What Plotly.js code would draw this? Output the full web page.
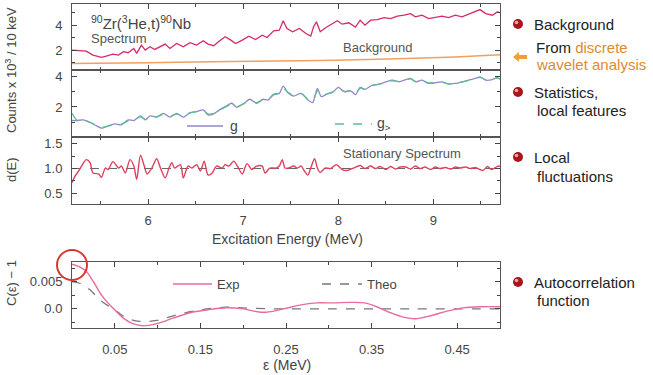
<!DOCTYPE html>
<html>
<head>
<meta charset="utf-8">
<script src="https://cdn.plot.ly/plotly-3.0.1.min.js"></script>
<style>
  html, body { margin: 0; padding: 0; background: #fff; }
  #plot { width: 653px; height: 375px; }
</style>
</head>
<body>
<div id="plot"></div>
<script>
// raw spectrum (counts x 10^3 / 10 keV)
const specE = [5.20, 5.28, 5.35, 5.42, 5.51, 5.56, 5.63, 5.69, 5.74, 5.79, 5.85, 5.88, 5.93, 5.97,
  6.02, 6.07, 6.13, 6.18, 6.23, 6.30, 6.37, 6.44, 6.51, 6.58, 6.63, 6.69, 6.74, 6.81, 6.87, 6.92,
  6.99, 7.06, 7.13, 7.20, 7.25, 7.32, 7.38, 7.42, 7.46, 7.52, 7.59, 7.66, 7.71, 7.74, 7.77, 7.81,
  7.87, 7.94, 7.99, 8.04, 8.11, 8.18, 8.23, 8.28, 8.34, 8.41, 8.48, 8.55, 8.62, 8.69, 8.76, 8.81,
  8.88, 8.95, 9.02, 9.09, 9.16, 9.23, 9.30, 9.37, 9.44, 9.49, 9.55, 9.62, 9.67, 9.70];
const specV = [2.00, 1.95, 1.92, 1.60, 1.41, 1.52, 1.68, 1.60, 1.87, 1.79, 2.13, 1.73, 2.40, 2.00,
  2.27, 2.05, 2.27, 2.48, 2.13, 2.53, 2.27, 2.59, 2.40, 2.75, 2.48, 2.35, 2.67, 3.07, 2.80, 2.53,
  2.80, 3.12, 2.85, 3.20, 3.01, 3.55, 3.60, 4.35, 3.73, 3.47, 3.73, 3.33, 3.12, 3.87, 4.27, 3.47,
  3.81, 4.13, 4.35, 4.08, 4.19, 3.84, 4.40, 4.00, 4.40, 4.45, 4.61, 4.53, 4.72, 4.80, 4.93, 4.67,
  4.80, 4.53, 4.61, 4.72, 4.61, 4.80, 4.67, 4.88, 5.07, 5.25, 4.93, 4.80, 5.07, 5.00];

// background from discrete wavelet analysis
const bgE = [5.2, 6.0, 6.67, 7.6, 8.18, 8.8, 9.23, 9.7];
const bgV = [0.93, 0.99, 1.06, 1.15, 1.22, 1.34, 1.45, 1.62];

// g and g> (statistics, local features)
const gE = [5.20, 5.25, 5.32, 5.39, 5.46, 5.51, 5.58, 5.65, 5.72, 5.79, 5.85, 5.92, 5.97, 6.02,
  6.09, 6.16, 6.23, 6.30, 6.37, 6.44, 6.51, 6.58, 6.63, 6.69, 6.74, 6.81, 6.88, 6.93, 7.00, 7.07,
  7.14, 7.21, 7.26, 7.32, 7.38, 7.42, 7.47, 7.53, 7.61, 7.68, 7.73, 7.78, 7.82, 7.88, 7.94, 8.00,
  8.06, 8.13, 8.18, 8.23, 8.28, 8.36, 8.43, 8.50, 8.57, 8.64, 8.71, 8.76, 8.81, 8.88, 8.95, 9.02,
  9.09, 9.16, 9.23, 9.30, 9.37, 9.44, 9.49, 9.55, 9.62, 9.67, 9.70];
const gV = [1.12, 1.12, 1.16, 0.99, 0.77, 0.62, 0.77, 0.90, 0.84, 1.16, 1.12, 1.42, 1.16, 1.42,
  1.34, 1.59, 1.34, 1.59, 1.34, 1.63, 1.70, 1.81, 1.48, 1.55, 1.76, 2.02, 2.24, 1.98, 2.19, 2.50,
  2.24, 2.50, 2.45, 2.84, 2.88, 3.35, 2.92, 2.71, 2.88, 2.45, 2.28, 3.20, 2.67, 2.84, 2.95, 3.27,
  2.99, 3.05, 2.80, 3.27, 3.14, 3.42, 3.48, 3.63, 3.74, 3.63, 3.78, 3.85, 3.63, 3.74, 3.53, 3.57,
  3.63, 3.48, 3.53, 3.63, 3.74, 3.85, 3.96, 3.74, 3.78, 3.90, 3.80];
const gGtV = [1.60, 1.15, 1.14, 1.00, 0.80, 0.68, 0.76, 0.88, 0.88, 1.10, 1.14, 1.36, 1.22, 1.38,
  1.36, 1.52, 1.40, 1.54, 1.40, 1.60, 1.70, 1.76, 1.55, 1.58, 1.76, 1.98, 2.18, 2.02, 2.20, 2.44,
  2.28, 2.48, 2.50, 2.78, 2.90, 3.22, 2.96, 2.76, 2.86, 2.52, 2.40, 3.05, 2.74, 2.84, 2.98, 3.20,
  3.02, 3.04, 2.86, 3.22, 3.16, 3.40, 3.48, 3.60, 3.70, 3.66, 3.76, 3.82, 3.66, 3.72, 3.56, 3.58,
  3.60, 3.50, 3.55, 3.62, 3.72, 3.84, 3.92, 3.78, 3.80, 3.88, 3.82];

// stationary spectrum d(E)
const dE = [5.20, 5.23, 5.27, 5.30, 5.35, 5.39, 5.42, 5.48, 5.51, 5.55, 5.58, 5.63, 5.69, 5.72,
  5.76, 5.81, 5.85, 5.88, 5.92, 5.96, 5.99, 6.04, 6.09, 6.13, 6.18, 6.22, 6.25, 6.28, 6.34, 6.37,
  6.42, 6.46, 6.51, 6.55, 6.59, 6.63, 6.67, 6.72, 6.78, 6.81, 6.85, 6.90, 6.95, 6.99, 7.04, 7.09,
  7.14, 7.20, 7.23, 7.28, 7.35, 7.38, 7.41, 7.44, 7.48, 7.53, 7.57, 7.61, 7.64, 7.68, 7.71, 7.75,
  7.78, 7.81, 7.86, 7.92, 7.98, 8.04, 8.09, 8.16, 8.23, 8.28, 8.34, 8.39, 8.44, 8.50, 8.55, 8.60,
  8.65, 8.71, 8.76, 8.81, 8.86, 8.91, 8.97, 9.02, 9.07, 9.13, 9.18, 9.23, 9.28, 9.34, 9.39, 9.44,
  9.49, 9.52, 9.57, 9.61, 9.67, 9.70];
const dV = [0.71, 0.84, 0.95, 1.05, 1.18, 1.12, 0.91, 0.89, 0.82, 1.01, 0.98, 1.14, 1.01, 1.05,
  0.91, 1.18, 1.05, 0.78, 1.27, 1.05, 0.89, 1.01, 1.20, 1.01, 0.81, 1.01, 1.12, 1.01, 1.08, 0.81,
  1.05, 1.01, 1.08, 0.95, 1.15, 0.87, 0.90, 1.05, 1.01, 1.08, 1.05, 1.15, 1.01, 0.89, 1.10, 0.98,
  1.05, 1.05, 0.91, 1.01, 1.01, 1.05, 1.18, 1.01, 1.01, 1.05, 1.01, 1.05, 0.96, 0.87, 1.01, 1.20,
  1.01, 0.92, 1.01, 1.00, 1.08, 0.98, 0.96, 1.01, 1.06, 1.00, 1.05, 1.00, 1.04, 0.98, 1.04, 0.99,
  1.03, 1.03, 0.99, 1.05, 1.00, 1.03, 0.98, 1.03, 1.00, 1.02, 0.99, 1.03, 1.01, 1.03, 1.00, 1.02,
  0.98, 0.96, 1.04, 0.98, 1.04, 1.05];
const dRef = 1.0;

// autocorrelation function C(eps) - 1
const expEps = [0.000, 0.009, 0.017, 0.025, 0.036, 0.050, 0.060, 0.071, 0.083, 0.099, 0.118,
  0.138, 0.157, 0.180, 0.200, 0.216, 0.227, 0.247, 0.266, 0.286, 0.305, 0.325, 0.342, 0.356,
  0.372, 0.387, 0.401, 0.418, 0.438, 0.457, 0.477, 0.500];
const expC = [0.0082, 0.0077, 0.0068, 0.0050, 0.0022, -0.0002, -0.0017, -0.0027, -0.0031, -0.0027,
  -0.0017, -0.0007, -0.0002, 0.0002, 0.0000, -0.0005, -0.0006, 0.0000, 0.0007, 0.0011, 0.0011,
  0.0012, 0.0011, 0.0004, -0.0007, -0.0015, -0.0018, -0.0013, -0.0004, 0.0002, 0.0004, 0.0004];
const theoEps = [0.000, 0.009, 0.021, 0.033, 0.050, 0.064, 0.079, 0.099, 0.122, 0.150, 0.180,
  0.211, 0.247, 0.300, 0.400, 0.500];
const theoC = [0.0050, 0.0047, 0.0035, 0.0016, -0.0002, -0.0017, -0.0023, -0.0021, -0.0011,
  -0.0002, 0.0003, 0.0001, 0.0000, 0.0000, 0.0000, 0.0000];

const W = 653, H = 375;
const L = 72, R = 500, T = 4, B = 328;
// pixel -> paper helpers for decorations
const px = x => (x - L) / (R - L);
const py = y => (B - y) / (B - T);

const tickFont = { family: 'Liberation Sans, Arial, sans-serif', size: 13, color: '#444' };
const txt = '#555';

function xax(anchor, extra) {
  return Object.assign({
    anchor: anchor, range: [5.2, 9.7], showline: true, linecolor: '#555', linewidth: 1,
    mirror: 'ticks', ticks: 'inside', ticklen: 5, tickcolor: '#444', showgrid: false, zeroline: false,
    tickvals: [6, 7, 8, 9], tickfont: tickFont,
    minor: { tickvals: [5.5, 6.5, 7.5, 8.5, 9.5], ticks: 'inside', ticklen: 3, tickcolor: '#444' }
  }, extra);
}
function yax(anchor, domain, range, vals, text, minor) {
  return {
    anchor: anchor, domain: domain, range: range, showline: true, linecolor: '#555', linewidth: 1,
    mirror: 'ticks', ticks: 'inside', ticklen: 5, tickcolor: '#444', showgrid: false, zeroline: false,
    tickvals: vals, ticktext: text, tickfont: tickFont, ticklabelstandoff: 6,
    minor: { tickvals: minor, ticks: 'inside', ticklen: 3, tickcolor: '#444' }
  };
}

const traces = [
  { x: bgE, y: bgV, xaxis: 'x', yaxis: 'y', mode: 'lines', line: { color: '#f0a060', width: 1.5, shape: 'spline' } },
  { x: specE, y: specV, xaxis: 'x', yaxis: 'y', mode: 'lines', line: { color: '#d42a6b', width: 1.3 } },
  { x: gE, y: gV, xaxis: 'x2', yaxis: 'y2', mode: 'lines', line: { color: '#9088c8', width: 1.3, shape: 'spline', smoothing: 0.7 } },
  { x: gE, y: gGtV, xaxis: 'x2', yaxis: 'y2', mode: 'lines', line: { color: '#5cbf93', width: 1.3, dash: 'dash', shape: 'spline', smoothing: 0.7 } },
  { x: [5.2, 9.7], y: [dRef, dRef], xaxis: 'x3', yaxis: 'y3', mode: 'lines', line: { color: '#666', width: 1, dash: 'dash' } },
  { x: dE, y: dV, xaxis: 'x3', yaxis: 'y3', mode: 'lines', line: { color: '#e0405e', width: 1.4, shape: 'spline', smoothing: 0.8 } },
  { x: theoEps, y: theoC, xaxis: 'x4', yaxis: 'y4', mode: 'lines', line: { color: '#777', width: 1.3, dash: 'dash', shape: 'spline' } },
  { x: expEps, y: expC, xaxis: 'x4', yaxis: 'y4', mode: 'lines', line: { color: '#e86aa0', width: 1.4, shape: 'spline' } }
];

function note(x, y, text, size, color, anchor, angle) {
  return {
    xref: 'paper', yref: 'paper', x: px(x), y: py(y), text: text, showarrow: false,
    xanchor: anchor || 'left', yanchor: 'middle', textangle: angle || 0, borderpad: 0,
    font: { family: 'Liberation Sans, Arial, sans-serif', size: size, color: color }
  };
}

const orange = '#e08a30';
const annotations = [
  note(90, 22, '<sup>90</sup>Zr(<sup>3</sup>He,t)<sup>90</sup>Nb', 15, '#444'),
  note(90, 38, 'Spectrum', 13, txt),
  note(342, 47, 'Background', 13, txt),
  note(342, 153, 'Stationary Spectrum', 13, txt),
  note(229, 126, 'g', 14, '#444'),
  note(376, 124, 'g<sub>></sub>', 14, '#444'),
  note(216, 284, 'Exp', 13, '#444'),
  note(366, 284, 'Theo', 13, '#444'),
  note(287, 239, 'Excitation Energy (MeV)', 14, '#444', 'center'),
  note(287, 365, 'ε (MeV)', 14, '#444', 'center'),
  note(11, 70, 'Counts x 10<sup>3</sup> / 10 keV', 13, '#444', 'center', -90),
  note(11, 170, 'd(E)', 13, '#444', 'center', -90),
  note(11, 283, 'C(ε) − 1', 13, '#444', 'center', -90),
  note(533, 24, 'Background', 15, '#222'),
  note(535, 47, 'From <span style="color:' + orange + '">discrete</span>', 15, '#222'),
  note(535, 65, 'wavelet analysis', 15, orange),
  note(533, 92, 'Statistics,', 15, '#222'),
  note(536, 110, 'local features', 15, '#222'),
  note(533, 157, 'Local', 15, '#222'),
  note(536, 176, 'fluctuations', 15, '#222'),
  note(533, 282, 'Autocorrelation', 15, '#222'),
  note(536, 300, 'function', 15, '#222')
];

function keyLine(x0, x1, y, color, dash) {
  return { type: 'line', xref: 'paper', yref: 'paper', x0: px(x0), x1: px(x1), y0: py(y), y1: py(y),
    line: { color: color, width: 1.5, dash: dash || 'solid' } };
}
function bullet(x, y) {
  return [
    { type: 'circle', xref: 'paper', yref: 'paper', xsizemode: 'pixel', ysizemode: 'pixel',
      xanchor: px(x), yanchor: py(y), x0: -5, x1: 5, y0: -5, y1: 5,
      fillcolor: '#a8161c', line: { width: 0 } },
    { type: 'circle', xref: 'paper', yref: 'paper', xsizemode: 'pixel', ysizemode: 'pixel',
      xanchor: px(x - 1.5), yanchor: py(y - 1.5), x0: -1.8, x1: 1.8, y0: -1.8, y1: 1.8,
      fillcolor: '#f4a0a0', line: { width: 0 } }
  ];
}

const shapes = [
  keyLine(187, 223, 126, '#9088c8'),
  keyLine(335, 372, 124, '#5cbf93', 'dash'),
  keyLine(173, 212, 284, '#e86aa0'),
  keyLine(322, 362, 284, '#777', 'dash'),
  { type: 'circle', xref: 'paper', yref: 'paper', xsizemode: 'pixel', ysizemode: 'pixel',
    xanchor: 0, yanchor: py(265), x0: -15, x1: 15, y0: -15, y1: 15,
    line: { color: '#d9382e', width: 2 } },
  { type: 'path', xref: 'paper', yref: 'paper', xsizemode: 'pixel', ysizemode: 'pixel',
    xanchor: px(520), yanchor: py(57),
    path: 'M -7,0 L -1,5 L -1,2 L 7,2 L 7,-2 L -1,-2 L -1,-5 Z',
    fillcolor: '#f0a030', line: { width: 0 } }
].concat(bullet(518, 24), bullet(518, 92), bullet(518, 157), bullet(518, 282));

const layout = {
  width: W, height: H,
  margin: { l: L, r: W - R, t: T, b: H - B, pad: 0 },
  paper_bgcolor: '#fff', plot_bgcolor: '#fff',
  showlegend: false,
  font: { family: 'Liberation Sans, Arial, sans-serif', color: '#444' },
  xaxis: xax('y', { showticklabels: false }),
  xaxis2: xax('y2', { showticklabels: false, matches: 'x' }),
  xaxis3: xax('y3', { matches: 'x', ticklabelstandoff: 4 }),
  xaxis4: {
    anchor: 'y4', range: [0, 0.5], showline: true, linecolor: '#555', linewidth: 1,
    mirror: 'ticks', ticks: 'inside', ticklen: 5, tickcolor: '#444', showgrid: false, zeroline: false,
    tickvals: [0.05, 0.15, 0.25, 0.35, 0.45], tickfont: tickFont, ticklabelstandoff: 9,
    minor: { tickvals: [0.1, 0.2, 0.3, 0.4], ticks: 'inside', ticklen: 3, tickcolor: '#444' }
  },
  yaxis: yax('x', [py(70), 1], [0.4, 5.7], [2, 4], ['2', '4'], [1, 3, 5]),
  yaxis2: yax('x2', [py(137), py(70)], [0.05, 4.4], [2, 4], ['2', '4'], [1, 3]),
  yaxis3: yax('x3', [py(204), py(137)], [0.28, 1.64], [0.5, 1.0, 1.5], ['0.5', '1.0', '1.5'], [0.75, 1.25]),
  yaxis4: yax('x4', [0, py(262)], [-0.0035, 0.0086], [0, 0.005], ['0.0', '0.005'], [-0.0025, 0.0025, 0.0075]),
  annotations: annotations,
  shapes: shapes
};

Plotly.newPlot('plot', traces, layout, { staticPlot: true, displayModeBar: false });
</script>
</body>
</html>
